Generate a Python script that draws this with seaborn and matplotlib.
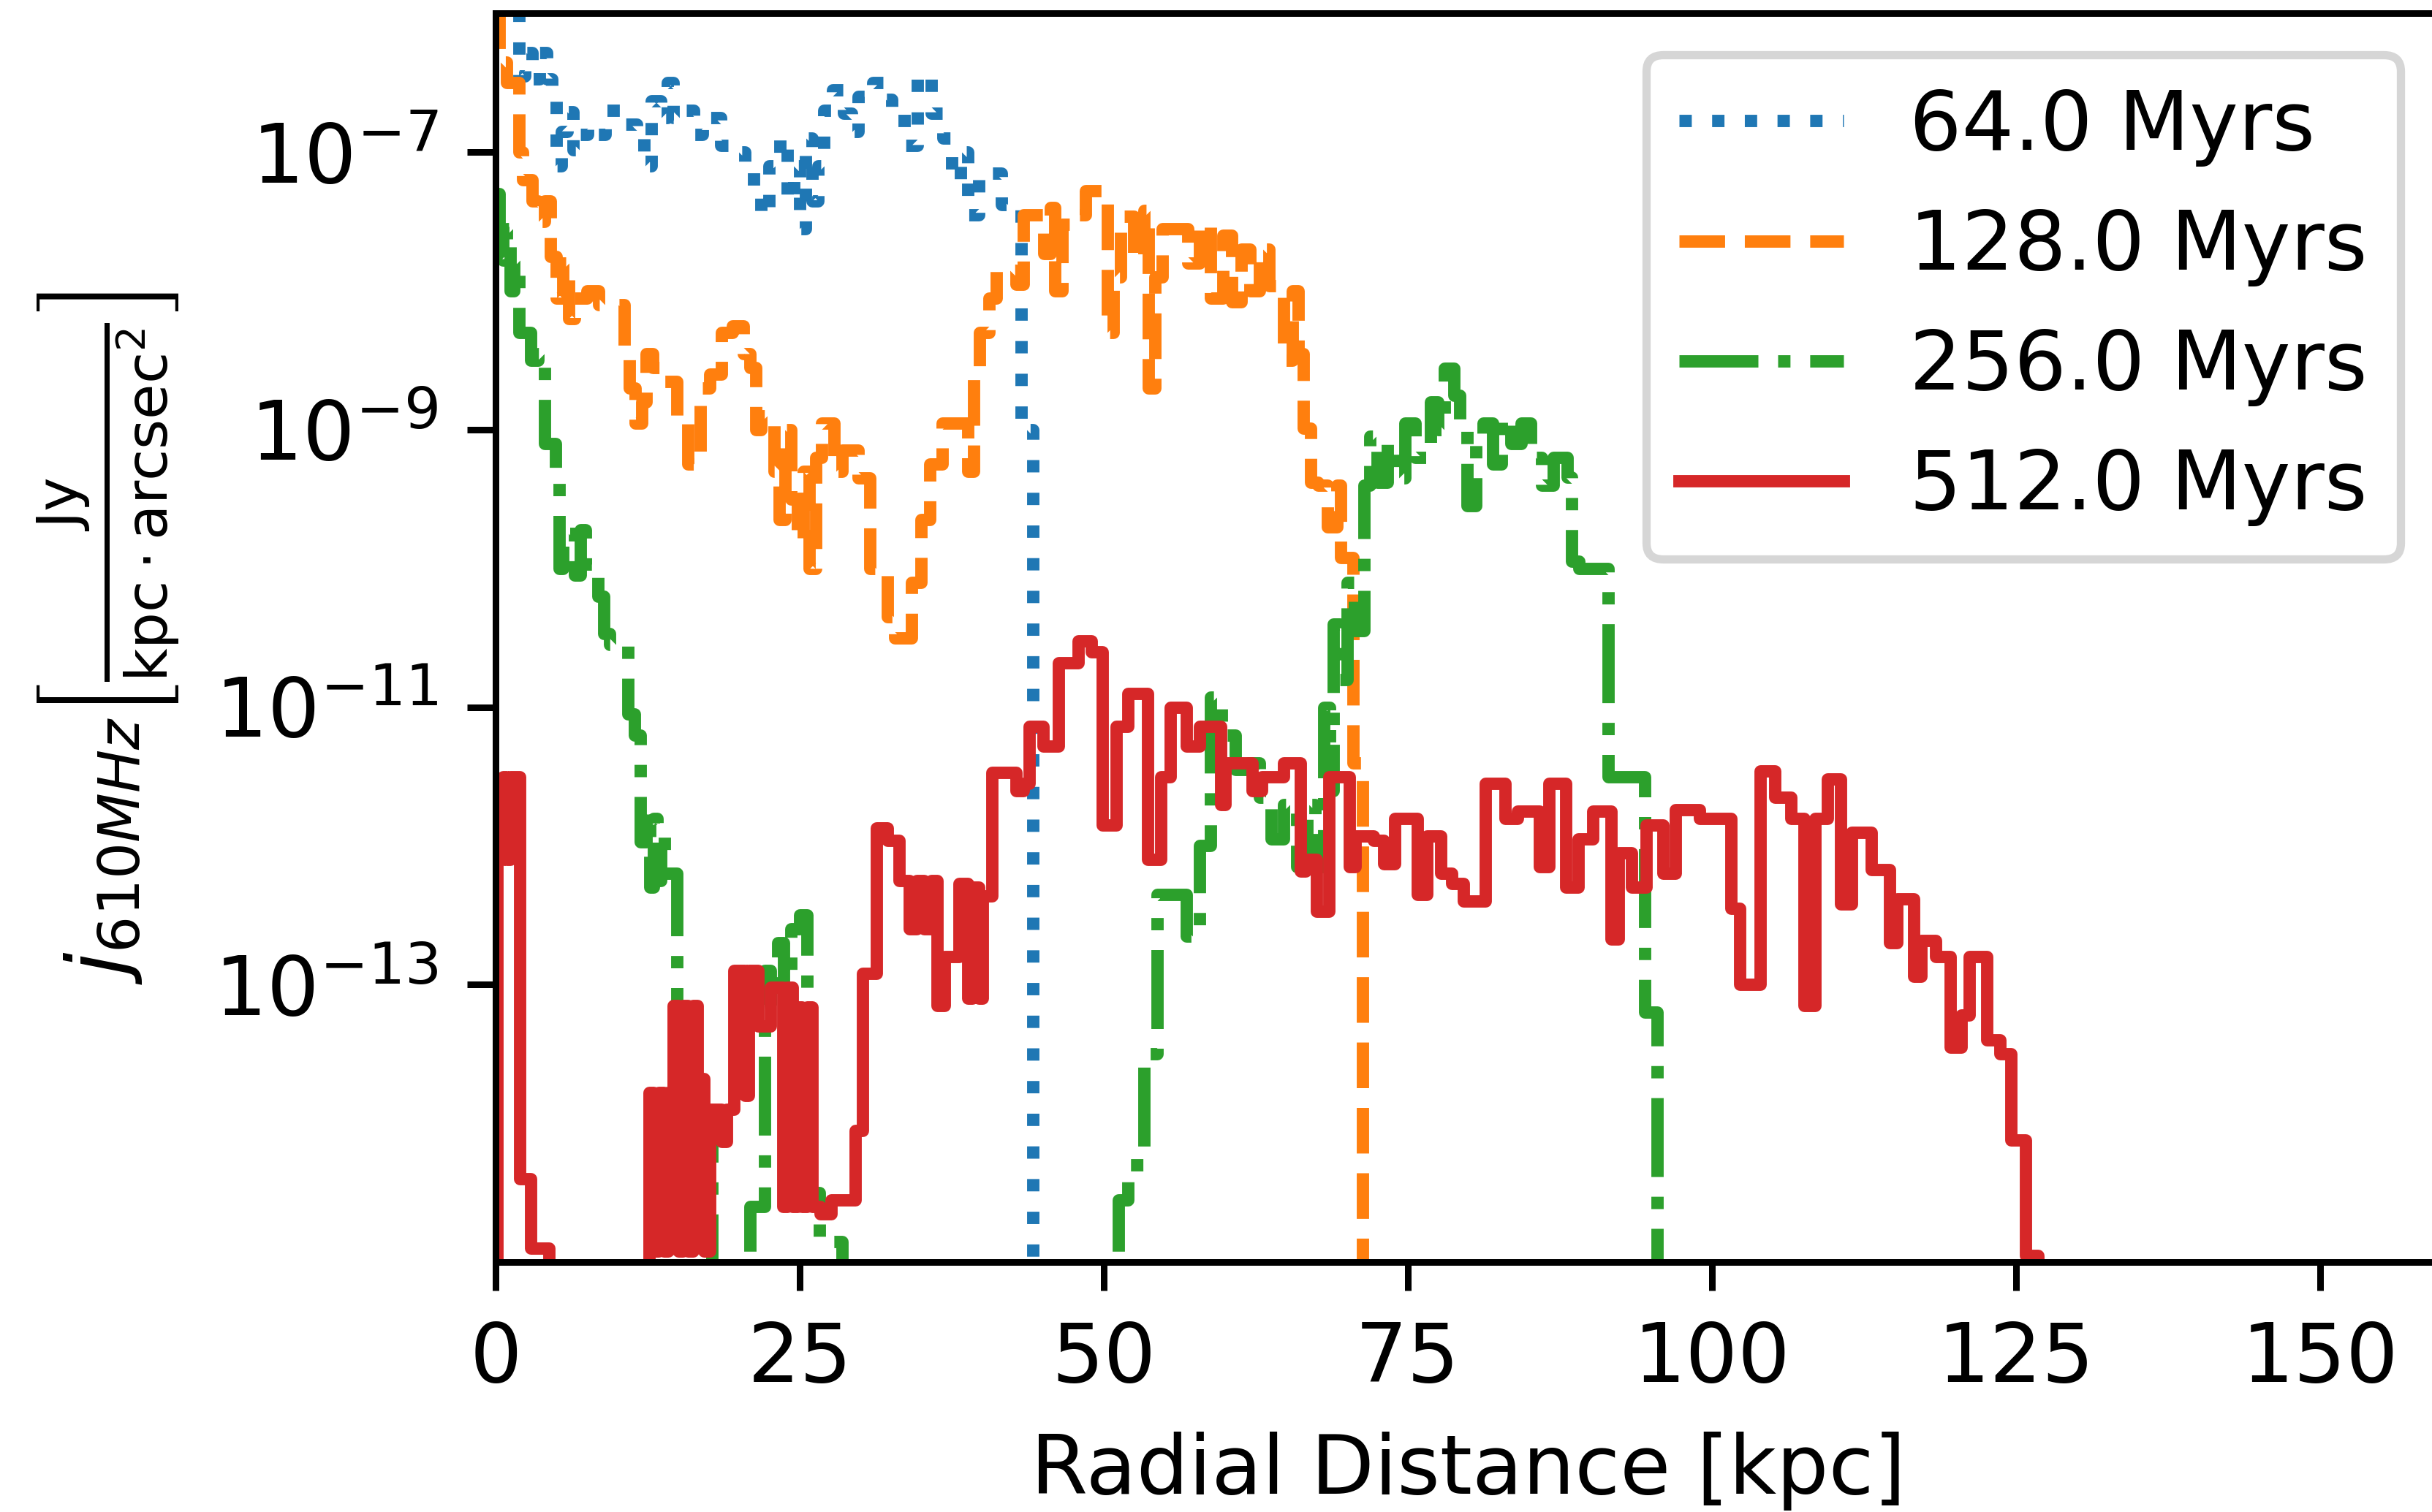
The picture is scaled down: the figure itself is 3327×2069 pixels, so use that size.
import numpy as np
import pandas as pd
import matplotlib
matplotlib.use("Agg")
import matplotlib.pyplot as plt
import seaborn as sns
from matplotlib.ticker import NullLocator

# Radial emissivity profiles at 610 MHz; x in kpc (left bin edges),
# y as log10(j); -inf marks bins with no emission.
NEG = -np.inf

x_64 = [0.0, 1.95, 2.4, 3.0, 3.6, 4.2, 4.6, 5.0, 5.4, 5.9, 6.4, 6.8, 7.6, 8.2,
        9.0, 10.4, 11.6, 12.2, 12.8, 13.6, 14.1, 14.6, 15.2, 16.3, 17.0, 18.5, 19.5,
        20.5, 21.2, 21.8, 22.5, 23.4, 24.0, 24.5, 25.0, 25.5, 26.0, 26.5, 27.0, 27.7,
        28.6, 29.3, 29.8, 31.0, 32.0, 32.6, 33.6, 34.7, 35.8, 36.8, 37.5, 38.2, 38.8,
        39.7, 40.6, 41.6, 42.8, 43.2, 44.2, 45.0]
logj_64 = [-5.9, -6.45, -6.28, -6.47, -6.28, -6.47, -6.63, -7.1, -6.85, -6.71,
           -6.98, -6.87, -6.82, -6.87, -6.7, -6.8, -6.9, -7.1, -6.63, -6.75, -6.5,
           -6.75, -6.7, -6.87, -6.75, -6.95, -7.0, -7.1, -7.3, -7.45, -7.1, -6.9,
           -7.35, -7.1, -7.55, -6.9, -7.35, -7.1, -6.7, -6.55, -6.72, -6.85, -6.6,
           -6.5, -6.62, -6.72, -6.95, -6.45, -6.72, -6.9, -7.2, -7.0, -7.45, -7.15,
           -7.15, -7.38, -7.4, -9.0, NEG, NEG]

x_128 = [0.0, 0.3, 0.9, 1.95, 2.2, 3.0, 3.5, 4.0, 4.5, 5.0, 5.5, 6.0, 6.5, 7.5, 8.5,
         10.6, 11.0, 11.5, 12.0, 12.4, 12.9, 13.9, 14.9, 15.8, 16.8, 17.6, 18.6, 19.5,
         20.4, 20.9, 21.4, 21.8, 22.9, 23.3, 23.8, 24.3, 24.8, 25.3, 25.8, 26.3, 26.8,
         27.8, 28.5, 29.8, 30.8, 32.2, 32.8, 34.2, 35.0, 35.7, 36.7, 38.8, 39.3, 39.8,
         40.6, 41.2, 42.8, 43.4, 45.1, 45.6, 46.0, 46.6, 47.6, 48.5, 50.3, 50.8, 51.4,
         52.5, 53.3, 53.7, 54.2, 54.8, 56.9, 57.9, 58.8, 59.8, 60.5, 61.3, 62.0, 62.8,
         63.6, 64.8, 65.5, 66.0, 66.4, 67.0, 67.6, 68.4, 69.2, 69.5, 70.5, 71.3, 72.0]
logj_128 = [-5.95, -6.35, -6.5, -7.0, -7.2, -7.35, -7.5, -7.35, -7.75, -8.05, -7.8,
            -8.2, -8.05, -8.0, -8.1, -8.4, -8.7, -8.95, -8.8, -8.45, -8.55, -8.65,
            -8.9, -9.25, -8.7, -8.6, -8.3, -8.25, -8.45, -8.55, -9.0, -8.9, -9.3,
            -9.65, -9.0, -9.5, -9.8, -9.3, -10.0, -9.2, -8.95, -9.3, -9.15, -9.35,
            -10.0, -10.35, -10.5, -10.1, -9.65, -9.25, -8.95, -9.3, -8.6, -8.3, -8.05,
            -7.85, -7.95, -7.45, -7.73, -7.4, -8.0, -7.52, -7.45, -7.28, -8.3, -7.9,
            -7.46, -7.76, -7.42, -8.7, -7.9, -7.55, -7.8, -7.52, -8.05, -7.6, -8.08,
            -7.7, -8.0, -7.7, -7.96, -8.5, -8.0, -8.45, -8.99, -9.38, -9.4, -9.7,
            -9.4, -9.92, -11.4, NEG, NEG]

x_256 = [0.0, 0.3, 0.6, 0.9, 1.2, 1.5, 1.95, 2.9, 3.5, 4.0, 4.9, 5.2, 5.5, 6.5, 7.0,
         7.4, 8.4, 8.9, 9.4, 10.9, 11.4, 11.9, 12.4, 12.7, 13.0, 13.3, 13.6, 13.9,
         14.9, 17.8, 20.9, 22.1, 22.6, 23.2, 23.7, 24.3, 25.0, 25.6, 26.6, 28.5,
         51.2, 52.0, 53.3, 54.4, 56.8, 57.9, 58.8, 59.7, 60.8, 61.9, 62.8, 63.8,
         64.8, 65.9, 66.7, 67.4, 68.1, 68.6, 68.9, 69.4, 70.0, 70.6, 71.4, 71.9,
         72.5, 73.3, 74.0, 74.8, 75.6, 76.9, 77.5, 78.0, 78.8, 79.3, 79.9, 80.6,
         81.2, 82.0, 82.7, 83.5, 84.3, 85.1, 86.0, 87.0, 88.1, 88.5, 89.1, 91.5,
         94.5, 95.5, 96.5]
logj_256 = [-7.3, -7.55, -7.78, -7.55, -8.0, -7.78, -8.3, -8.5, -8.45, -9.1, -9.35,
            -10.0, -9.75, -10.05, -9.72, -9.97, -10.2, -10.47, -10.55, -11.05, -11.2,
            -11.97, -11.75, -12.3, -11.8, -12.25, -11.9, -12.2, -14.0, NEG, -14.6,
            -12.9, -13.15, -12.7, -13.05, -12.6, -12.5, -14.5, -14.85, NEG,
            -14.55, -14.3, -13.5, -12.35, -12.65, -12.0, -10.93, -11.2, -11.45,
            -11.4, -11.65, -11.95, -11.7, -12.15, -11.7, -12.15, -11.0, -11.6, -10.4,
            -10.8, -10.1, -10.45, -9.4, -9.05, -9.38, -9.1, -9.35, -8.95, -9.2, -8.8,
            -9.0, -8.56, -8.75, -9.0, -9.55, -9.1, -8.95, -9.25, -8.92, -9.1, -8.95,
            -9.2, -9.4, -9.2, -9.34, -9.95, -10.0, -11.5, -13.2, NEG, NEG]

x_512 = [0.0, 0.1, 0.6, 0.9, 1.2, 2.0, 2.9, 4.4,
         12.6, 13.0, 13.4, 13.8, 14.2, 14.6, 15.0, 15.4, 15.8, 16.2, 16.6, 17.1, 17.6,
         18.6, 19.0, 19.6, 20.5, 20.8, 21.6, 22.6, 23.6, 24.0, 24.4, 24.8, 25.2, 25.6,
         26.0, 26.7, 27.6, 29.6, 30.2, 31.3, 32.2, 33.2, 34.0, 34.6, 35.2, 35.8, 36.3,
         36.9, 38.1, 38.8, 39.2, 39.7, 40.0, 40.8, 42.8, 43.4, 43.9, 45.0, 46.3, 47.9,
         49.0, 49.9, 51.0, 52.0, 53.6, 54.7, 55.5, 56.8, 57.9, 59.6, 60.0, 62.2, 63.0,
         64.8, 66.2, 66.6, 67.5, 68.5, 70.2, 70.7, 72.2, 73.0, 73.9, 75.8, 76.6, 77.7,
         78.6, 79.6, 81.4, 83.0, 84.0, 85.8, 86.6, 88.0, 89.0, 90.2, 91.7, 92.3, 93.4,
         94.6, 96.0, 97.0, 99.0, 101.6, 102.3, 104.0, 105.2, 106.5, 107.6, 108.5,
         109.5, 110.6, 111.5, 113.1, 114.6, 115.2, 116.6, 117.2, 118.4, 119.6, 120.5,
         121.2, 122.6, 123.7, 124.6, 125.8, 126.8]
logj_512 = [NEG, -12.1, -11.5, -12.1, -11.5, -14.4, -14.9, NEG,
            -13.78, -14.92, -13.78, -14.92, -13.78, -13.15, -14.92, -13.15, -14.92,
            -13.15, -13.68, -14.92, -13.9, -14.13, -13.9, -12.9, -13.8, -12.9, -13.3,
            -13.02, -14.6, -13.02, -14.6, -13.16, -14.6, -13.16, -14.6, -14.65, -14.55,
            -14.05, -12.92, -11.87, -11.96, -12.25, -12.6, -12.25, -12.6, -12.25,
            -13.15, -12.8, -12.27, -13.1, -12.3, -13.1, -12.36, -11.47, -11.6, -11.55,
            -11.14, -11.28, -10.68, -10.52, -10.6, -11.85, -11.14, -10.9, -12.1, -11.5,
            -11.0, -11.28, -11.14, -11.7, -11.4, -11.6, -11.5, -11.4, -12.18, -12.1,
            -12.47, -11.5, -12.15, -11.93, -11.96, -12.13, -11.8, -12.35, -11.93, -12.2,
            -12.27, -12.4, -11.55, -11.8, -11.75, -12.15, -11.55, -12.3, -11.95, -11.75,
            -12.67, -12.05, -12.3, -11.85, -12.2, -11.74, -11.8, -12.45, -13.0, -11.46,
            -11.65, -11.8, -13.15, -11.8, -11.52, -12.42, -11.9, -12.17, -12.7, -12.38,
            -12.94, -12.68, -12.8, -13.45, -13.22, -12.8, -13.4, -13.5, -14.12, -14.95,
            NEG]

ages = ["64.0 Myrs", "128.0 Myrs", "256.0 Myrs", "512.0 Myrs"]
profiles = [(x_64, logj_64), (x_128, logj_128), (x_256, logj_256), (x_512, logj_512)]
colors = ["#1f77b4", "#ff7f0e", "#2ca02c", "#d62728"]
linestyles = [":", "--", "-.", "-"]

x_ticks = [0, 25, 50, 75, 100, 125, 150]
y_ticks = [1e-13, 1e-11, 1e-9, 1e-7]

fig = plt.figure(figsize=(3327 / 810, 2069 / 810), dpi=810)
ax = fig.add_axes([0.20379, 0.16530, 0.80012, 0.82576])
ax.set_yscale("log")

for (xs, lj), age, c, ls in zip(profiles, ages, colors, linestyles):
    df = pd.DataFrame({"r": xs, "j": np.power(10.0, np.asarray(lj, dtype=float))})
    sns.lineplot(data=df, x="r", y="j", ax=ax, color=c, linestyle=ls,
                 drawstyle="steps-post", estimator=None, sort=False, label=age)

ax.set_xlim(0, 160)
ax.set_ylim(1e-15, 1e-6)
ax.set_xticks(x_ticks)
ax.set_yticks(y_ticks)
ax.yaxis.set_minor_locator(NullLocator())
ax.set_xlabel("Radial Distance [kpc]")
ax.set_ylabel(r"$j_{610MHz}\left[\frac{\mathrm{Jy}}{\mathrm{kpc}\cdot\mathrm{arcsec}^2}\right]$")
ax.legend(loc="upper right")

fig.savefig("out.png", dpi=810)
